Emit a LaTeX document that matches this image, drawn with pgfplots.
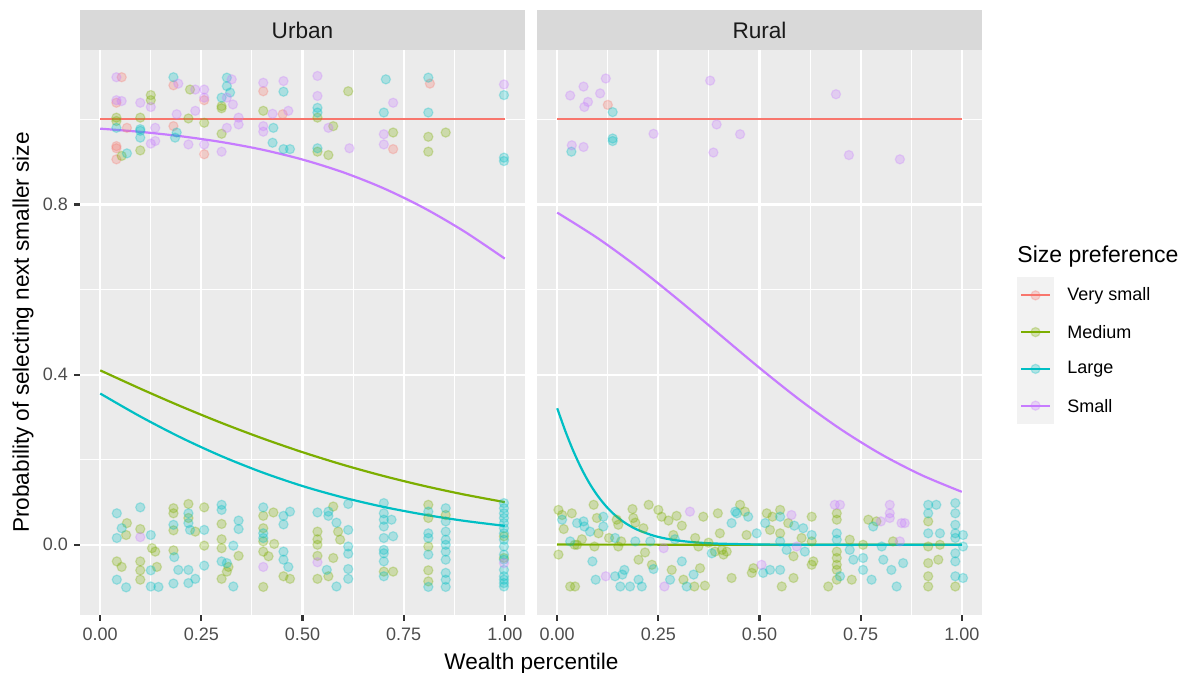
\documentclass[border=0pt]{standalone}
\usepackage{fontspec}
\setmainfont{Liberation Sans}
\usepackage{pgfplots}
\pgfplotsset{compat=1.18}
\definecolor{cVS}{HTML}{F8766D}
\definecolor{cMed}{HTML}{7CAE00}
\definecolor{cLarge}{HTML}{00BFC4}
\definecolor{cSmall}{HTML}{C77CFF}
\definecolor{panelbg}{HTML}{EBEBEB}
\definecolor{stripbg}{HTML}{D9D9D9}
\definecolor{keybg}{HTML}{F2F2F2}
\definecolor{ticktext}{HTML}{4D4D4D}
\definecolor{tickmark}{HTML}{333333}
\definecolor{striptext}{HTML}{1A1A1A}

\pgfplotsset{
  facet/.style={
    scale only axis, width=222.5pt, height=282.5pt,
    xmin=-0.05, xmax=1.05, ymin=-0.165, ymax=1.163,
    axis background/.style={fill=panelbg},
    axis line style={draw=none},
    xtick={0,0.25,0.5,0.75,1},
    xticklabels={0.00,0.25,0.50,0.75,1.00},
    minor xtick={0.125,0.375,0.625,0.875},
    ytick={0,0.4,0.8},
    minor ytick={0.2,0.6,1.0},
    grid=both,
    major grid style={white, line width=1.1pt},
    minor grid style={white, line width=0.55pt},
    tick align=outside, tick pos=left,
    major tick length=2.8pt, minor tick length=0pt,
    tick style={tickmark, line width=1.1pt},
    tick label style={font=\fontsize{9}{10}\selectfont, text=ticktext, inner sep=0pt},
    xticklabel style={yshift=-3.5pt},
    yticklabel style={xshift=-3pt},
  },
  pts/.style={only marks, mark=*, mark size=2.3pt, color=#1,
    mark options={fill opacity=0.27, draw opacity=0.27, line width=0.6pt}, forget plot},
  crv/.style={color=#1, line width=1.1pt, smooth},
}

\begin{document}
\begin{tikzpicture}
\path[use as bounding box] (0,0) rectangle (598.5pt,336.5pt);

% ---------------- Urban ----------------
\begin{axis}[facet, name=urban, at={(40pt,29pt)}, anchor=south west,
  yticklabels={0.0,0.4,0.8}]
\addplot[pts=cVS] coordinates {
(0.053,1.099) (0.040,1.039) (0.066,0.980) (0.040,0.937) (0.040,0.932) (0.040,0.906)
(0.181,1.080) (0.181,0.984) (0.257,1.045) (0.257,0.918) (0.403,1.066) (0.451,1.012)
(0.724,0.930) (0.815,1.084)};
\addplot[pts=cMed] coordinates {
(0.040,1.004) (0.040,0.996) (0.053,0.914) (0.099,1.004) (0.099,0.927) (0.125,1.057)
(0.125,1.045) (0.218,1.002) (0.222,1.070) (0.257,0.992) (0.300,1.031) (0.300,1.026)
(0.300,0.966) (0.403,1.020) (0.537,1.004) (0.537,0.924) (0.576,0.984) (0.564,0.916)
(0.613,1.066) (0.724,0.969) (0.811,0.959) (0.811,0.924) (0.854,0.969)
(0.066,0.051) (0.064,0.023) (0.041,-0.039) (0.053,-0.052) (0.099,0.037) (0.128,-0.008)
(0.136,-0.016) (0.099,-0.039) (0.099,-0.060) (0.099,-0.082) (0.140,-0.052) (0.181,0.086)
(0.181,0.074) (0.181,0.034) (0.181,-0.013) (0.218,0.096) (0.218,0.063) (0.235,0.031)
(0.257,0.088) (0.257,-0.002) (0.300,0.049) (0.300,0.013) (0.300,-0.008) (0.300,-0.080)
(0.313,-0.063) (0.317,-0.052) (0.342,-0.026) (0.403,0.068) (0.403,0.039) (0.403,0.008)
(0.403,-0.016) (0.403,-0.099) (0.428,0.076) (0.430,0.002) (0.416,-0.027) (0.453,-0.074)
(0.469,-0.080) (0.537,0.031) (0.537,0.013) (0.537,0.000) (0.537,-0.026) (0.537,-0.080)
(0.576,0.090) (0.564,-0.074) (0.588,0.031) (0.593,0.012) (0.576,-0.031) (0.701,-0.063)
(0.724,-0.063) (0.811,0.094) (0.811,0.063) (0.811,-0.004) (0.811,-0.060) (0.811,-0.086)
(0.854,0.070) (0.998,0.020) (0.998,-0.031)};
\addplot[pts=cLarge] coordinates {
(0.040,0.980) (0.066,0.920) (0.099,0.977) (0.099,0.973) (0.099,0.957) (0.181,1.099)
(0.189,0.969) (0.185,0.957) (0.300,1.051) (0.313,1.098) (0.313,1.078) (0.321,1.063)
(0.428,0.980) (0.426,0.945) (0.453,1.065) (0.453,0.930) (0.469,0.930) (0.537,1.027)
(0.537,1.016) (0.537,0.932) (0.701,1.016) (0.706,1.094) (0.811,1.098) (0.811,1.016)
(0.998,1.057) (0.998,0.910) (0.998,0.902)
(0.041,0.074) (0.053,0.039) (0.041,0.016) (0.041,-0.082) (0.064,-0.100) (0.099,0.088)
(0.125,0.023) (0.125,-0.060) (0.125,-0.098) (0.144,-0.099) (0.181,0.047) (0.183,-0.029)
(0.181,-0.091) (0.218,0.074) (0.218,0.051) (0.222,0.035) (0.257,0.035) (0.257,-0.049)
(0.193,-0.059) (0.218,-0.059) (0.235,-0.080) (0.218,-0.090) (0.300,0.094) (0.300,0.082)
(0.300,-0.039) (0.329,-0.002) (0.342,0.037) (0.342,0.057) (0.329,-0.098) (0.313,-0.043)
(0.403,0.088) (0.403,0.027) (0.403,0.016) (0.453,0.068) (0.469,0.078) (0.453,0.048)
(0.453,-0.035) (0.453,-0.016) (0.465,-0.052) (0.537,0.076) (0.564,0.078) (0.564,0.068)
(0.560,-0.059) (0.584,0.052) (0.613,0.096) (0.613,0.035) (0.613,-0.004) (0.613,-0.021)
(0.613,-0.057) (0.613,-0.080) (0.584,-0.098) (0.701,0.098) (0.701,0.074) (0.701,0.059)
(0.701,0.043) (0.701,0.016) (0.701,-0.012) (0.701,-0.020) (0.701,-0.039) (0.701,-0.074)
(0.720,0.059) (0.724,0.020) (0.811,0.078) (0.811,0.027) (0.811,0.016) (0.811,-0.023)
(0.811,-0.099) (0.854,0.086) (0.854,0.055) (0.854,0.031) (0.854,0.012) (0.854,0.000)
(0.854,-0.016) (0.854,-0.035) (0.854,-0.066) (0.854,-0.082) (0.854,-0.099) (0.998,0.098)
(0.998,0.074) (0.998,0.051) (0.998,0.027) (0.998,0.012) (0.998,-0.004) (0.998,-0.023)
(0.998,-0.059) (0.998,-0.074) (0.998,-0.090) (0.998,-0.098) (0.998,0.086) (0.998,0.063)
(0.998,0.039) (0.998,-0.035) (0.998,-0.082)};
\addplot[pts=cSmall] coordinates {
(0.040,1.099) (0.040,1.045) (0.053,1.043) (0.099,1.039) (0.125,1.029) (0.136,0.980)
(0.136,0.949) (0.125,0.943) (0.193,1.084) (0.189,1.012) (0.218,0.941) (0.235,1.070)
(0.235,1.020) (0.257,1.070) (0.257,1.051) (0.257,0.941) (0.300,0.924) (0.325,1.094)
(0.313,1.051) (0.328,1.035) (0.313,0.980) (0.342,1.004) (0.342,0.988) (0.403,1.086)
(0.403,0.984) (0.403,0.971) (0.426,1.013) (0.453,1.090) (0.465,1.020) (0.537,1.102)
(0.537,1.055) (0.564,0.980) (0.616,0.932) (0.724,1.039) (0.701,0.965) (0.701,0.941)
(0.998,1.082)
(0.099,0.018) (0.403,-0.052) (0.537,-0.041) (0.998,-0.043)};
% fitted curves
\addplot[crv=cVS] coordinates {(0,1) (1,1)};
\addplot[crv=cMed] coordinates {
(0,0.4100) (0.1,0.3666) (0.2,0.3252) (0.3,0.2864) (0.4,0.2505) (0.5,0.2177)
(0.6,0.1881) (0.7,0.1618) (0.8,0.1385) (0.9,0.1181) (1,0.1003)};
\addplot[crv=cLarge] coordinates {
(0,0.3555) (0.1,0.3011) (0.2,0.2518) (0.3,0.2082) (0.4,0.1704) (0.5,0.1381)
(0.6,0.1113) (0.7,0.0891) (0.8,0.0710) (0.9,0.0563) (1,0.0445)};
\addplot[crv=cSmall] coordinates {
(0,0.9781) (0.1,0.9705) (0.2,0.9602) (0.3,0.9466) (0.4,0.9288) (0.5,0.9055)
(0.6,0.8757) (0.7,0.8381) (0.8,0.7918) (0.9,0.7365) (1,0.6726)};
\end{axis}

% ---------------- Rural ----------------
\begin{axis}[facet, name=rural, at={(268.5pt,29pt)}, anchor=south west,
  yticklabels={}, ytick style={draw=none}]
\addplot[pts=cVS] coordinates {(0.125,1.034)};
\addplot[pts=cMed] coordinates {
(0.003,0.082) (0.003,-0.023) (0.012,0.070) (0.016,0.037) (0.036,0.074) (0.032,-0.098)
(0.044,-0.098) (0.043,0.000) (0.049,0.000) (0.061,0.013) (0.090,0.094) (0.092,-0.004)
(0.098,0.063) (0.102,0.027) (0.128,0.016) (0.147,0.059) (0.151,0.047) (0.151,-0.004)
(0.158,0.008) (0.186,0.084) (0.188,0.063) (0.193,0.052) (0.213,0.039) (0.217,-0.018)
(0.201,-0.035) (0.226,0.094) (0.234,-0.047) (0.250,0.082) (0.258,0.066) (0.275,0.057)
(0.283,-0.059) (0.287,0.023) (0.295,0.068) (0.308,0.045) (0.312,-0.082) (0.339,-0.098)
(0.341,0.016) (0.349,-0.004) (0.353,-0.055) (0.361,0.066) (0.365,-0.096) (0.374,0.005)
(0.390,-0.016) (0.397,0.074) (0.402,0.027) (0.407,-0.012) (0.411,-0.023) (0.419,-0.016)
(0.431,-0.078) (0.452,0.094) (0.464,0.078) (0.468,0.023) (0.481,-0.066) (0.485,-0.055)
(0.518,0.074) (0.526,0.035) (0.532,0.066) (0.551,0.082) (0.551,0.027) (0.555,-0.098)
(0.571,0.051) (0.584,-0.027) (0.584,-0.078) (0.604,0.016) (0.629,0.066) (0.629,0.008)
(0.629,-0.047) (0.633,-0.039) (0.670,-0.098) (0.691,0.074) (0.691,0.059) (0.691,-0.016)
(0.691,-0.031) (0.691,-0.047) (0.691,-0.059) (0.691,-0.082) (0.723,0.012) (0.728,-0.082)
(0.756,0.000) (0.769,0.059) (0.789,0.055) (0.830,0.008) (0.917,0.055) (0.917,-0.004)
(0.917,-0.043) (0.917,-0.074) (0.917,-0.098) (0.946,0.000) (0.942,-0.035) (0.984,-0.098)};
\addplot[pts=cLarge] coordinates {
(0.137,1.017) (0.035,0.924) (0.137,0.955) (0.137,0.949)
(0.012,0.059) (0.032,0.008) (0.049,0.051) (0.065,0.055) (0.067,0.043) (0.081,0.031)
(0.087,-0.039) (0.095,-0.082) (0.114,0.066) (0.114,0.043) (0.143,0.016) (0.161,-0.070)
(0.166,-0.059) (0.143,-0.074) (0.156,-0.098) (0.180,-0.098) (0.193,0.008) (0.201,-0.082)
(0.209,-0.098) (0.230,0.008) (0.238,-0.057) (0.279,-0.082) (0.291,0.013) (0.308,-0.039)
(0.320,-0.098) (0.337,-0.070) (0.382,-0.020) (0.431,0.051) (0.440,0.078) (0.444,0.074)
(0.472,0.066) (0.493,0.027) (0.509,-0.066) (0.514,0.051) (0.526,-0.059) (0.551,0.066)
(0.551,0.008) (0.551,-0.059) (0.567,-0.012) (0.586,0.045) (0.608,0.039) (0.612,-0.016)
(0.629,0.023) (0.691,0.027) (0.691,0.012) (0.699,-0.074) (0.723,-0.012) (0.732,-0.035)
(0.756,-0.031) (0.756,-0.059) (0.777,-0.082) (0.781,0.043) (0.802,-0.004) (0.806,-0.035)
(0.826,-0.059) (0.839,-0.098) (0.855,-0.043) (0.917,0.094) (0.917,0.074) (0.917,0.027)
(0.937,0.094) (0.946,0.027) (0.984,0.098) (0.984,0.074) (0.984,0.047) (0.984,0.027)
(0.984,0.016) (0.984,-0.020) (0.984,-0.039) (0.984,-0.074) (1.003,0.023) (1.003,-0.004)
(1.003,-0.078)};
\addplot[pts=cSmall] coordinates {
(0.032,1.056) (0.065,1.077) (0.120,1.096) (0.106,1.061) (0.076,1.041) (0.067,1.029)
(0.036,0.939) (0.065,0.935) (0.238,0.966) (0.378,1.091) (0.394,0.988) (0.452,0.965)
(0.386,0.922) (0.689,1.059) (0.721,0.916) (0.847,0.906)
(0.120,-0.074) (0.263,-0.008) (0.265,-0.098) (0.328,0.078) (0.505,-0.047) (0.579,0.070)
(0.592,-0.004) (0.686,0.094) (0.699,0.094) (0.800,0.055) (0.822,0.094) (0.822,0.074)
(0.822,0.063) (0.847,0.008) (0.851,0.051) (0.859,0.051)};
% fitted curves
\addplot[crv=cVS] coordinates {(0,1) (1,1)};
\addplot[crv=cMed] coordinates {(0,0.0005) (0.5,0.0002) (1,0.0000)};
\addplot[crv=cLarge] coordinates {
(0,0.3208) (0.02,0.2674) (0.04,0.2199) (0.06,0.1789) (0.08,0.1440) (0.10,0.1151)
(0.12,0.0913) (0.14,0.0720) (0.16,0.0566) (0.18,0.0443) (0.20,0.0346) (0.24,0.0209)
(0.28,0.0126) (0.32,0.0076) (0.36,0.0045) (0.40,0.0027) (0.50,0.0007) (0.60,0.0002)
(0.80,0.0000) (1,0.0000)};
\addplot[crv=cSmall] coordinates {
(0,0.7807) (0.1,0.7207) (0.2,0.6516) (0.3,0.5754) (0.4,0.4955) (0.5,0.4158)
(0.6,0.3403) (0.7,0.2721) (0.8,0.2131) (0.9,0.1641) (1,0.1245)};
\end{axis}

% facet strips
\fill[stripbg] (urban.north west) rectangle ([yshift=20pt]urban.north east);
\fill[stripbg] (rural.north west) rectangle ([yshift=20pt]rural.north east);
\node[font=\fontsize{11.3}{13}\selectfont, text=striptext] at ([yshift=10pt]urban.north) {Urban};
\node[font=\fontsize{11.3}{13}\selectfont, text=striptext] at ([yshift=10pt]rural.north) {Rural};

% axis titles
\node[font=\fontsize{11.3}{13}\selectfont] at (265.75pt,4.8pt) {Wealth percentile};
\node[font=\fontsize{11.3}{13}\selectfont, rotate=90] at (11.5pt,170.25pt) {Probability of selecting next smaller size};

% ---------------- Legend ----------------
\begin{axis}[name=leg, at={(508.5pt,124.5pt)}, anchor=south west,
  scale only axis, width=18.5pt, height=73.5pt,
  xmin=0, xmax=1, ymin=0, ymax=4, clip=false,
  axis background/.style={fill=keybg}, axis line style={draw=none},
  xtick=\empty, ytick=\empty]
\addplot[pts=cVS] coordinates {(0.5,3.5)};
\addplot[pts=cMed] coordinates {(0.5,2.5)};
\addplot[pts=cLarge] coordinates {(0.5,1.5)};
\addplot[pts=cSmall] coordinates {(0.5,0.5)};
\addplot[cVS, line width=1.1pt] coordinates {(0.12,3.5) (0.88,3.5)};
\addplot[cMed, line width=1.1pt] coordinates {(0.12,2.5) (0.88,2.5)};
\addplot[cLarge, line width=1.1pt] coordinates {(0.12,1.5) (0.88,1.5)};
\addplot[cSmall, line width=1.1pt] coordinates {(0.12,0.5) (0.88,0.5)};
\node[anchor=west, inner sep=0pt, font=\fontsize{9}{11}\selectfont] at ([xshift=6.5pt]axis cs:1,3.5) {Very small};
\node[anchor=west, inner sep=0pt, font=\fontsize{9}{11}\selectfont] at ([xshift=6.5pt]axis cs:1,2.5) {Medium};
\node[anchor=west, inner sep=0pt, font=\fontsize{9}{11}\selectfont] at ([xshift=6.5pt]axis cs:1,1.5) {Large};
\node[anchor=west, inner sep=0pt, font=\fontsize{9}{11}\selectfont] at ([xshift=6.5pt]axis cs:1,0.5) {Small};
\node[anchor=west, inner sep=0pt, font=\fontsize{11.5}{13}\selectfont] at ([yshift=10pt]axis cs:0,4) {Size preference};
\end{axis}
\end{tikzpicture}
\end{document}
